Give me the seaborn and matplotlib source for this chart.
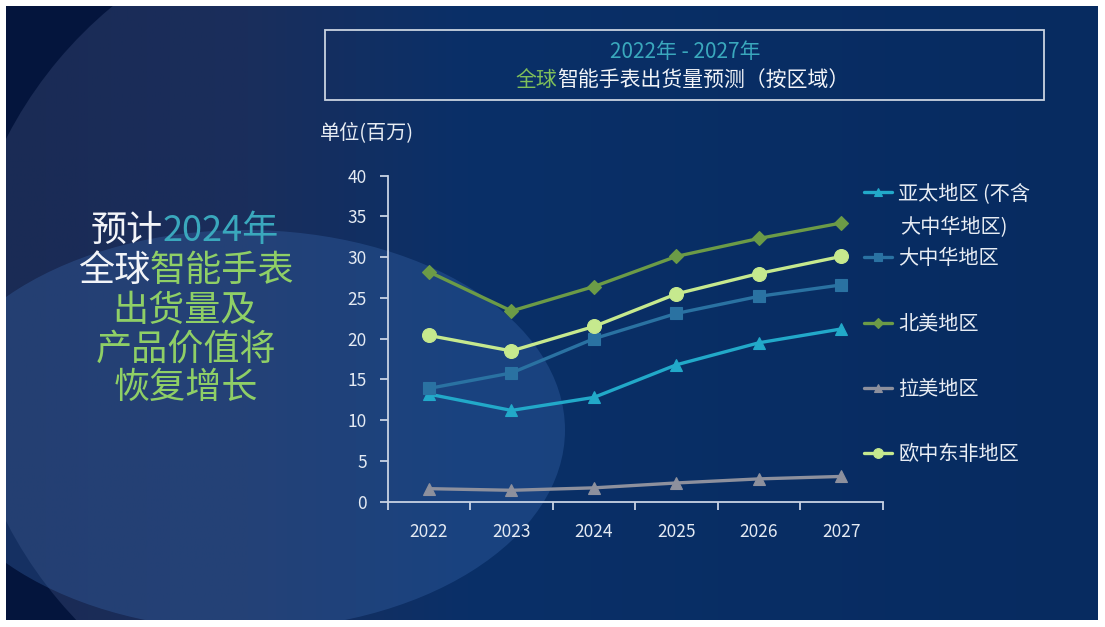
import matplotlib
matplotlib.use("Agg")
import matplotlib.pyplot as plt
from matplotlib.patches import Rectangle, Ellipse, Wedge
from matplotlib.colors import LinearSegmentedColormap
import numpy as np
import pandas as pd
import seaborn as sb

sb.set_theme(style="white")
plt.rcParams['font.family'] = ['Noto Sans CJK SC', 'DejaVu Sans']

# data (百万台)
years = ['2022', '2023', '2024', '2025', '2026', '2027']
apac = [13.2, 11.2, 12.8, 16.8, 19.5, 21.2]
greater_china = [13.9, 15.8, 20.0, 23.1, 25.2, 26.6]
north_america = [28.2, 23.4, 26.4, 30.1, 32.3, 34.2]
latam = [1.6, 1.4, 1.7, 2.3, 2.8, 3.1]
emea = [20.4, 18.5, 21.5, 25.5, 28.0, 30.1]

series_names = ['亚太地区 (不含', '大中华地区', '北美地区', '拉美地区', '欧中东非地区']
series_values = [apac, greater_china, north_america, latam, emea]
series_colors = ['#22a9c9', '#2a72a2', '#6c9b47', '#8d909d', '#c6e98e']
series_markers = ['^', 's', 'D', '^', 'o']
marker_sizes = [9, 8.5, 7.5, 9, 10]

W, H = 1105, 627


def fx(px):
    return px / W


def fy(py):
    return 1 - py / H


fig = plt.figure(figsize=(W / 100, H / 100), dpi=100, facecolor='white')

# background (slide look)
bg = fig.add_axes([0, 0, 1, 1])
bg.set_xlim(0, W)
bg.set_ylim(H, 0)
bg.axis('off')
grad_cmap = LinearSegmentedColormap.from_list(
    'bg', [(0, '#1a2b55'), (0.22, '#1a2e5c'), (0.42, '#0a3068'), (1, '#072b60')])
grad = np.tile(np.linspace(0, 1, 400), (2, 1))
bg.imshow(grad, cmap=grad_cmap, extent=(6, 1098, 620, 6), aspect='auto', zorder=0)
frame = Rectangle((6, 6), 1092, 614, facecolor='none', edgecolor='none')
bg.add_patch(frame)
dark = Wedge((380, 330), 1000, 100, 260, width=580, facecolor='#04153d', edgecolor='none', zorder=1)
bg.add_patch(dark)
dark.set_clip_path(frame)
glow = Ellipse((245, 430), 640, 400, facecolor='#3a6ab0', edgecolor='none', alpha=0.33, zorder=2)
bg.add_patch(glow)
glow.set_clip_path(frame)
bg.add_patch(Rectangle((325, 30), 719, 70, facecolor='none', edgecolor='#c9d3e0', lw=1.3, zorder=3))

renderer = fig.canvas.get_renderer()


def color_text(xc, yc, parts, size):
    """Draw a line made of coloured pieces, centred on (xc, yc) in pixels."""
    pieces = []
    total = 0
    for s, c in parts:
        t = fig.text(0, fy(yc), s, color=c, fontsize=size, ha='left', va='center')
        w = t.get_window_extent(renderer=renderer).width
        pieces.append((t, w))
        total += w
    x = xc - total / 2
    for t, w in pieces:
        t.set_x(fx(x))
        x += w


white = '#f2f4f8'
teal = '#3aa8bd'
green = '#8fcf66'

color_text(685, 52, [('2022年 - 2027年', teal)], 15)
color_text(682, 80, [('全球', '#7fbf5a'), ('智能手表出货量预测（按区域）', white)], 15)
fig.text(fx(320), fy(133), '单位(百万)', color='#e8edf4', fontsize=14.5, ha='left', va='center')

color_text(185, 231, [('预计', white), ('2024年', teal)], 26)
color_text(186, 271, [('全球', white), ('智能手表', green)], 26)
color_text(185, 311, [('出货量及', green)], 26)
color_text(186, 350, [('产品价值将', green)], 26)
color_text(186, 388, [('恢复增长', green)], 26)

# chart
ax = fig.add_axes([fx(387.7), fy(501.7), fx(882.7) - fx(387.7), fy(175.7) - fy(501.7)])
ax.set_facecolor('none')
for name, vals, col, mk, ms in zip(series_names, series_values, series_colors, series_markers, marker_sizes):
    df = pd.DataFrame({'年份': years, '出货量': vals})
    sb.lineplot(data=df, x='年份', y='出货量', ax=ax, color=col, marker=mk, markersize=ms,
                markeredgecolor=col, markeredgewidth=0.8, linewidth=2.4, label=name)

ax.set_xlim(-0.5, len(years) - 0.5)
ax.set_ylim(0, 40)
ax.set_yticks(range(0, 41, 5))
ax.set_xlabel('')
ax.set_ylabel('')
for side in ['top', 'right']:
    ax.spines[side].set_visible(False)
for side in ['left', 'bottom']:
    ax.spines[side].set_color('#c8d3e4')
    ax.spines[side].set_linewidth(1.3)
ax.set_xticks(np.arange(-0.5, len(years)), minor=True)
ax.tick_params(axis='x', which='major', length=0, pad=15, labelsize=12.5, labelcolor='#e4eaf3')
ax.tick_params(axis='x', which='minor', length=6, width=1.3, color='#c8d3e4', direction='out', bottom=True)
ax.tick_params(axis='y', length=6, width=1.3, color='#c8d3e4', direction='out', left=True,
               pad=9, labelsize=12.5, labelcolor='#e4eaf3')

handles, labels = ax.get_legend_handles_labels()
leg = ax.legend(handles, labels, loc='upper left', bbox_to_anchor=(fx(864), fy(183)),
                bbox_transform=fig.transFigure, frameon=False, fontsize=14.5,
                handlelength=1.4, handletextpad=0.3, labelspacing=2.2, borderpad=0,
                borderaxespad=0, markerscale=0.7)
for t in leg.get_texts():
    t.set_color('#e8edf4')
fig.text(fx(900), fy(228), '大中华地区)', color='#e8edf4', fontsize=14.5, ha='left', va='center')

fig.savefig('out.png', dpi=100, facecolor=fig.get_facecolor())
